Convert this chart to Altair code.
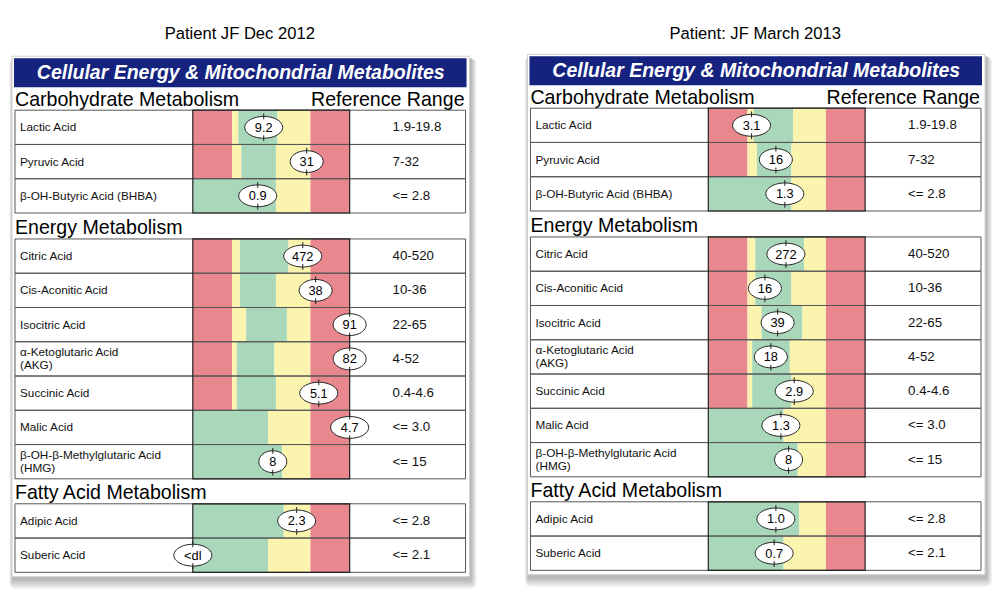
import math
import altair as alt
import pandas as pd

# ---------------- data ----------------
panel_titles = ["Patient JF Dec 2012", "Patient: JF March 2013"]
report_title = "Cellular Energy & Mitochondrial Metabolites"
column_header = "Reference Range"
section_names = ["Carbohydrate Metabolism", "Energy Metabolism", "Fatty Acid Metabolism"]

metabolites = [
    "Lactic Acid", "Pyruvic Acid", "β-OH-Butyric Acid (BHBA)",
    "Citric Acid", "Cis-Aconitic Acid", "Isocitric Acid",
    "α-Ketoglutaric Acid\n(AKG)", "Succinic Acid", "Malic Acid",
    "β-OH-β-Methylglutaric Acid\n(HMG)",
    "Adipic Acid", "Suberic Acid",
]
sections = (["Carbohydrate Metabolism"] * 3 + ["Energy Metabolism"] * 7
            + ["Fatty Acid Metabolism"] * 2)
reference_ranges = ["1.9-19.8", "7-32", "<= 2.8", "40-520", "10-36", "22-65",
                    "4-52", "0.4-4.6", "<= 3.0", "<= 15", "<= 2.8", "<= 2.1"]

# gauge zone edges, in percent of the gauge width
low_red_end = [25, 25, None, 25, 25, 25, 25, 25, None, None, None, None]
low_yellow_end = [29, 31, None, 30, 30, 34, 28, 28, None, None, None, None]
green_end = [54, 53, 53, 61, 53, 60, 52, 53, 48, 57, 58, 48]
high_red_start = [75, 75, 75, 75, 75, 75, 75, 75, 75, 75, 75, 75]

# patient results and where the marker sits on the gauge (percent)
dec2012_results = ["9.2", "31", "0.9", "472", "38", "91", "82", "5.1", "4.7", "8", "2.3", "<dl"]
dec2012_position = [45.2, 72.6, 41.4, 70.1, 78.3, 100, 100, 80.3, 100, 51, 66.2, 0]
mar2013_results = ["3.1", "16", "1.3", "272", "16", "39", "18", "2.9", "1.3", "8", "1.0", "0.7"]
mar2013_position = [27.6, 43.1, 48.8, 49.5, 36.1, 44.2, 39.9, 54.8, 46.3, 51.2, 43.1, 42.0]

zone_names = ["out of range", "borderline", "within range"]
zone_colors = ["#E9878E", "#FBF4AE", "#A9D7BA"]

# ---------------- layout (pixels) ----------------
W, H = 492, 580
ROW_H = 34.3
HEADER_BOTTOM = 79
HEADING_GAP = [23, 26, 25]
LABEL_LH = 13
FONT = "Liberation Sans, Arial, Helvetica, sans-serif"


def ellipse_path(rx, ry, n=48, tick=0.14):
    pts = [(rx * math.cos(2 * math.pi * k / n), ry * math.sin(2 * math.pi * k / n)) for k in range(n)]
    p = "M" + " L".join(f"{x:.4f},{y:.4f}" for x, y in pts) + " Z"
    p += f" M0,{-ry - tick:.3f} L0,{-ry + tick:.3f} M0,{ry - tick:.3f} L0,{ry + tick:.3f}"
    return p


MARKER_SIZE = 42 ** 2          # symbol box 42 px -> unit = 21 px
shape_domain = ["1", "2", "3"]
shape_range = [ellipse_path(14 / 21, 0.52), ellipse_path(16.5 / 21, 0.52), ellipse_path(19 / 21, 0.52)]


def geometry(dy):
    rows, secs = [], []
    y = HEADER_BOTTOM + dy
    for s, name in enumerate(section_names):
        y += HEADING_GAP[s]
        top = y
        for i, sec in enumerate(sections):
            if sec == name:
                rows.append(dict(i=i, top=y, bottom=y + ROW_H, mid=y + ROW_H / 2))
                y += ROW_H
        secs.append(dict(section=name, top=top, bottom=y, base=top - 4.5, g0=0, g1=100))
    return pd.DataFrame(rows).set_index("i"), pd.DataFrame(secs)


def panel(title, results, positions, dx, dy):
    rows, secs = geometry(dy)
    gx0, gx1 = 185 + dx, 342 + dx
    xs = alt.Scale(domain=[0, 100], range=[gx0, gx1], nice=False, zero=False)
    ys = alt.Scale(domain=[0, H], range=[0, H], nice=False, zero=False)

    table = pd.DataFrame({
        "metabolite": metabolites, "reference": reference_ranges,
        "result": results, "pos": positions,
        "top": rows["top"].values, "bottom": rows["bottom"].values, "mid": rows["mid"].values,
    })
    table["chars"] = [str(min(len(r), 3)) for r in results]
    table["label_y"] = [m - (lab.count("\n")) * LABEL_LH / 2 for m, lab in zip(table["mid"], metabolites)]

    bands = []
    for i in range(len(metabolites)):
        if low_red_end[i] is not None:
            segs = [(0, low_red_end[i], 0), (low_red_end[i], low_yellow_end[i], 1),
                    (low_yellow_end[i], green_end[i], 2), (green_end[i], high_red_start[i], 1),
                    (high_red_start[i], 100, 0)]
        else:
            segs = [(0, green_end[i], 2), (green_end[i], high_red_start[i], 1),
                    (high_red_start[i], 100, 0)]
        for a, b, z in segs:
            bands.append(dict(start=a, end=b, zone=zone_names[z],
                              top=rows.loc[i, "top"], bottom=rows.loc[i, "bottom"]))
    bands = pd.DataFrame(bands)

    one = pd.DataFrame({"title": [title], "report": [report_title], "ref": [column_header]})

    bx0, bx1, by0, by1 = 4 + dx, 462 + dx, 48 + dy, 569 + dy
    layers = []
    # soft drop shadow
    for k in range(1, 7):
        layers.append(alt.Chart(one).mark_rect(color="black", opacity=0.05, cornerRadius=k).encode(
            x=alt.value(bx0 + 1 - k * 0.6), x2=alt.value(bx1 + 1 + k),
            y=alt.value(by0 + 2), y2=alt.value(by1 + 2 + k * 1.7)))
    layers.append(alt.Chart(one).mark_rect(fill="white", stroke="#d0d0d0", strokeWidth=1).encode(
        x=alt.value(bx0), x2=alt.value(bx1), y=alt.value(by0), y2=alt.value(by1)))
    # navy header
    layers.append(alt.Chart(one).mark_rect(fill="#15237F").encode(
        x=alt.value(6 + dx), x2=alt.value(459 + dx), y=alt.value(50 + dy), y2=alt.value(79 + dy)))
    layers.append(alt.Chart(one).mark_text(font=FONT, fontSize=19.5, fontWeight="bold", fontStyle="italic",
                                           color="white", align="center", baseline="middle").encode(
        text="report:N", x=alt.value(233 + dx), y=alt.value(65 + dy)))
    # panel title
    layers.append(alt.Chart(one).mark_text(font=FONT, fontSize=16.6, color="black",
                                           align="center", baseline="middle").encode(
        text="title:N", x=alt.value(232 + dx), y=alt.value(26)))
    # section headings
    layers.append(alt.Chart(secs).mark_text(font=FONT, fontSize=19.6, color="black",
                                            align="left", baseline="alphabetic").encode(
        text="section:N", x=alt.value(7 + dx), y=alt.Y("base:Q", scale=ys, axis=None)))
    layers.append(alt.Chart(one).mark_text(font=FONT, fontSize=19.6, color="black",
                                           align="right", baseline="alphabetic").encode(
        text="ref:N", x=alt.value(457 + dx), y=alt.value(secs["base"].iloc[0])))
    # colour bands
    layers.append(alt.Chart(bands).mark_rect().encode(
        x=alt.X("start:Q", scale=xs, axis=None), x2="end:Q",
        y=alt.Y("top:Q", scale=ys, axis=None), y2="bottom:Q",
        color=alt.Color("zone:N", scale=alt.Scale(domain=zone_names, range=zone_colors), legend=None)))
    # row borders
    layers.append(alt.Chart(table).mark_rect(fillOpacity=0, stroke="#555555", strokeWidth=1).encode(
        x=alt.value(7 + dx), x2=alt.value(458 + dx),
        y=alt.Y("top:Q", scale=ys, axis=None), y2="bottom:Q"))
    # gauge frame per section
    layers.append(alt.Chart(secs).mark_rect(fillOpacity=0, stroke="#222222", strokeWidth=1.2).encode(
        x=alt.X("g0:Q", scale=xs, axis=None), x2="g1:Q",
        y=alt.Y("top:Q", scale=ys, axis=None), y2="bottom:Q"))
    # labels and reference ranges
    layers.append(alt.Chart(table).mark_text(font=FONT, fontSize=11.8, color="#111111", align="left",
                                             baseline="middle", lineBreak="\n", lineHeight=LABEL_LH).encode(
        text="metabolite:N", x=alt.value(12 + dx), y=alt.Y("label_y:Q", scale=ys, axis=None)))
    layers.append(alt.Chart(table).mark_text(font=FONT, fontSize=13.3, color="#111111", align="left",
                                             baseline="middle").encode(
        text="reference:N", x=alt.value(385 + dx), y=alt.Y("mid:Q", scale=ys, axis=None)))
    # result markers
    layers.append(alt.Chart(table).mark_point(filled=True, fill="white", stroke="#222222",
                                              strokeWidth=1, opacity=1).encode(
        x=alt.X("pos:Q", scale=xs, axis=None), y=alt.Y("mid:Q", scale=ys, axis=None),
        shape=alt.Shape("chars:N", scale=alt.Scale(domain=shape_domain, range=shape_range), legend=None),
        size=alt.value(MARKER_SIZE)))
    layers.append(alt.Chart(table).mark_text(font=FONT, fontSize=12.8, color="black", align="center",
                                             baseline="middle", dy=0.5).encode(
        text="result:N", x=alt.X("pos:Q", scale=xs, axis=None), y=alt.Y("mid:Q", scale=ys, axis=None)))

    return alt.layer(*layers).properties(width=W, height=H)


left = panel(panel_titles[0], dec2012_results, dec2012_position, 0, 0)
right = panel(panel_titles[1], mar2013_results, mar2013_position, 24, -2)

chart = (alt.hconcat(left, right, spacing=0)
         .properties(padding=0, background="white")
         .configure_view(stroke=None))

chart.save("out.html", embed_options={"renderer": "svg", "actions": False})
